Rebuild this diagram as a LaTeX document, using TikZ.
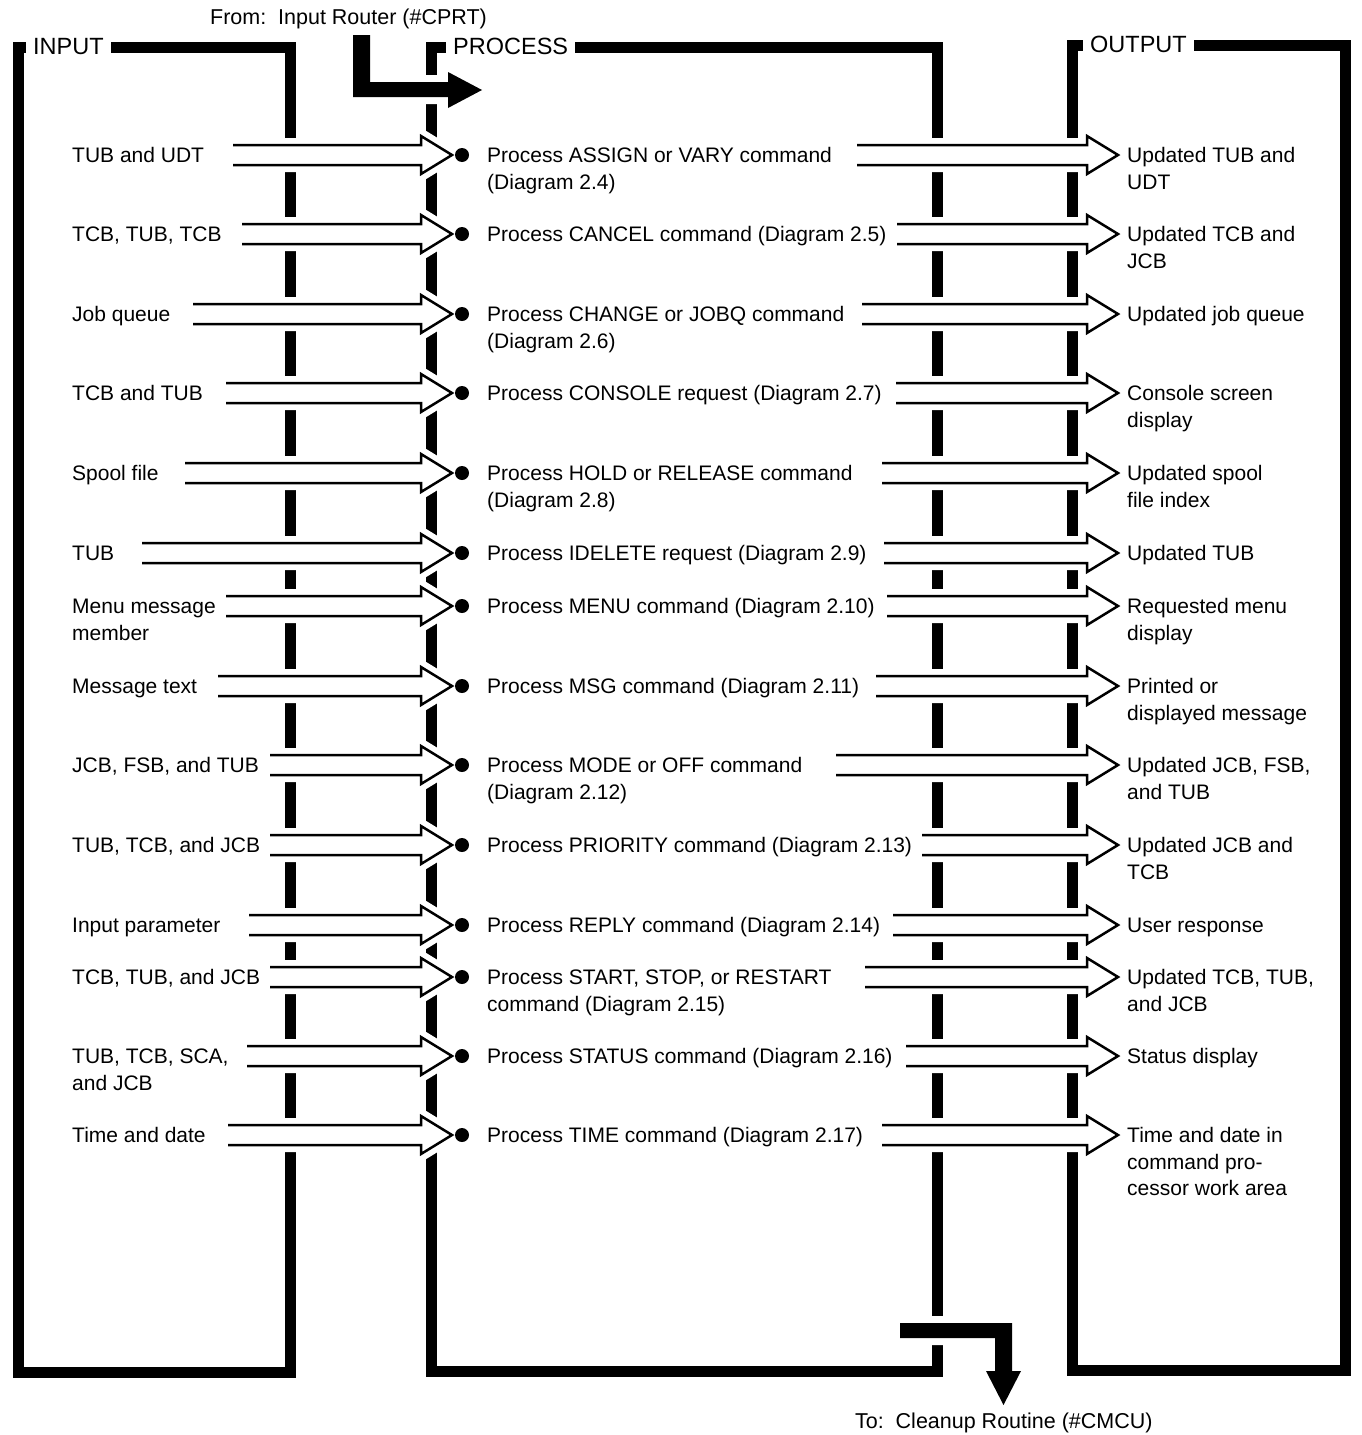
\documentclass[tikz,border=0pt]{standalone}
\usepackage{fontspec}
\setmainfont{Liberation Sans}
\usetikzlibrary{calc}

\tikzset{
  frame/.style={line width=11pt, line join=miter},
  hdr/.style={fill=white, inner xsep=7pt, inner ysep=5pt, anchor=west,
              font=\fontsize{23.5}{28}\selectfont},
  txt/.style={anchor=north west, inner sep=0pt, align=left,
              font=\fontsize{21}{26.5}\selectfont},
  lbl/.style={anchor=west, inner sep=0pt, font=\fontsize{21.5}{26.5}\selectfont},
  arrowline/.style={line width=2.5pt, line join=miter},
  halo/.style={fill=white, draw=white, line width=14pt, line join=round},
  dotmark/.style={circle, fill=black, inner sep=0pt, minimum size=14pt},
}

% hollow (outlined) arrow from a tail coordinate to a tip coordinate,
% cutting a white gap through whatever lies beneath it
\newcommand{\hollowarrow}[2]{%
  \path[halo]
    ($(#1)+(0,-10)$) -- ($(#2)+(-31,-10)$) -- ($(#2)+(-31,-19)$) -- (#2)
    -- ($(#2)+(-31,19)$) -- ($(#2)+(-31,10)$) -- ($(#1)+(0,10)$) -- cycle;
  \draw[arrowline]
    ($(#1)+(0,-10)$) -- ($(#2)+(-31,-10)$) -- ($(#2)+(-31,-19)$) -- (#2)
    -- ($(#2)+(-31,19)$) -- ($(#2)+(-31,10)$) -- ($(#1)+(0,10)$);
}

% one row: id, y, input text, input tail x, process text, output tail x, output text
\newcommand{\flowrow}[7]{%
  \coordinate (intail#1) at (#4,#2);
  \coordinate (intip#1) at (452,#2);
  \coordinate (outtail#1) at (#6,#2);
  \coordinate (outtip#1) at (1118,#2);
  \hollowarrow{intail#1}{intip#1}
  \hollowarrow{outtail#1}{outtip#1}
  \node[dotmark] (dot#1) at (462,#2) {};
  \node[txt] (in#1) at (72,#2-10.85) {\strut #3};
  \node[txt] (proc#1) at (487,#2-10.85) {\strut #5};
  \node[txt] (out#1) at (1127,#2-10.85) {\strut #7};
}

\begin{document}
\begin{tikzpicture}[x=1pt,y=-1pt]
\useasboundingbox (0,0) rectangle (1361,1435);

% the three column frames
\draw[frame] (18,47) rectangle (290,1372);
\draw[frame] (431,47) rectangle (937,1371);
\draw[frame] (1072,45) rectangle (1345,1370);

% column headings set into the top edges
\node[hdr] (hin) at (26,47) {INPUT};
\node[hdr] (hproc) at (446,46) {PROCESS};
\node[hdr] (hout) at (1083,44) {OUTPUT};

% entry from the input router
\coordinate (entry) at (361.5,35);
\def\entrypath{(353,35) -- (370,35) -- (370,82) -- (448,82) -- (448,72)
  -- (482,90) -- (448,108) -- (448,97) -- (353,97) -- cycle}
\path[halo] \entrypath;
\fill \entrypath;
\node[lbl] (from) at (210,19) {From:\hspace{0.55em}Input Router (\#CPRT)};

% exit to the cleanup routine
\def\exitpath{(900,1323) -- (1012,1323) -- (1012,1371) -- (1021,1371)
  -- (1003.5,1405) -- (986,1371) -- (995,1371) -- (995,1338) -- (900,1338) -- cycle}
\path[halo] \exitpath;
\fill \exitpath;
\node[lbl] (to) at (855,1423) {To:\hspace{0.55em}Cleanup Routine (\#CMCU)};

\flowrow{1}{155}{TUB and UDT}{233}{Process ASSIGN or VARY command\\(Diagram 2.4)}{857}{Updated TUB and\\UDT}
\flowrow{2}{234}{TCB, TUB, TCB}{242}{Process CANCEL command (Diagram 2.5)}{897}{Updated TCB and\\JCB}
\flowrow{3}{314}{Job queue}{193}{Process CHANGE or JOBQ command\\(Diagram 2.6)}{862}{Updated job queue}
\flowrow{4}{393}{TCB and TUB}{226}{Process CONSOLE request (Diagram 2.7)}{896}{Console screen\\display}
\flowrow{5}{473}{Spool file}{185}{Process HOLD or RELEASE command\\(Diagram 2.8)}{882}{Updated spool\\file index}
\flowrow{6}{553}{TUB}{142}{Process IDELETE request (Diagram 2.9)}{884}{Updated TUB}
\flowrow{7}{606}{Menu message\\member}{226}{Process MENU command (Diagram 2.10)}{887}{Requested menu\\display}
\flowrow{8}{686}{Message text}{218}{Process MSG command (Diagram 2.11)}{876}{Printed or\\displayed message}
\flowrow{9}{765}{JCB, FSB, and TUB}{270}{Process MODE or OFF command\\(Diagram 2.12)}{836}{Updated JCB, FSB,\\and TUB}
\flowrow{10}{845}{TUB, TCB, and JCB}{270}{Process PRIORITY command (Diagram 2.13)}{922}{Updated JCB and\\TCB}
\flowrow{11}{925}{Input parameter}{249}{Process REPLY command (Diagram 2.14)}{893}{User response}
\flowrow{12}{977}{TCB, TUB, and JCB}{270}{Process START, STOP, or RESTART\\command (Diagram 2.15)}{865}{Updated TCB, TUB,\\and JCB}
\flowrow{13}{1056}{TUB, TCB, SCA,\\and JCB}{247}{Process STATUS command (Diagram 2.16)}{906}{Status display}
\flowrow{14}{1135}{Time and date}{228}{Process TIME command (Diagram 2.17)}{882}{Time and date in\\command pro-\\cessor work area}
\end{tikzpicture}
\end{document}
